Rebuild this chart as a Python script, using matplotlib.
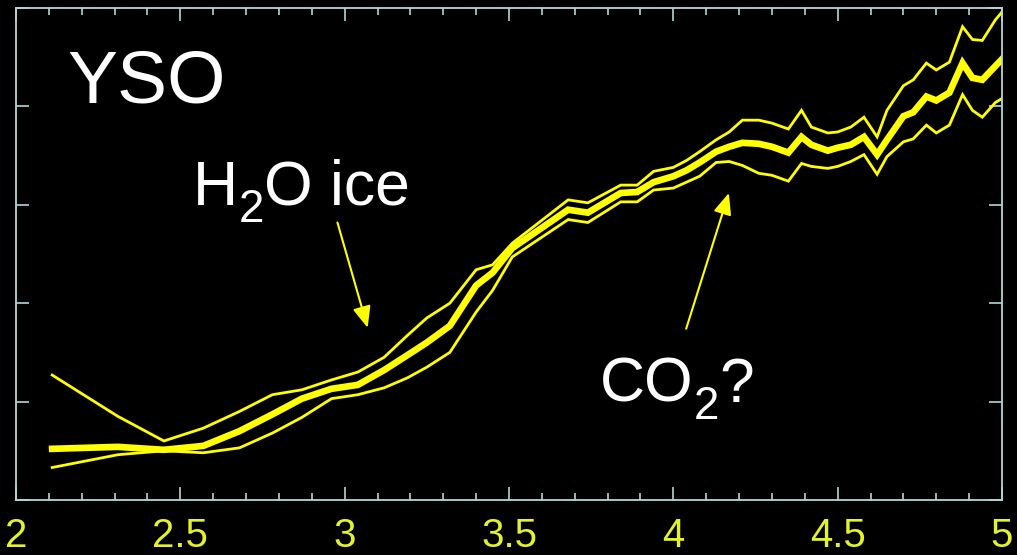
import matplotlib
matplotlib.use("Agg")
import matplotlib.pyplot as plt
from matplotlib.ticker import MultipleLocator, NullFormatter

# wavelength (micron)
wavelength = [2.11, 2.31, 2.45, 2.57, 2.68, 2.78, 2.87, 2.96, 3.04, 3.12,
              3.19, 3.25, 3.32, 3.40, 3.45, 3.51, 3.68, 3.74, 3.84, 3.89,
              3.94, 4.00, 4.04, 4.08, 4.13, 4.17, 4.21, 4.26, 4.30, 4.35,
              4.39, 4.42, 4.47, 4.50, 4.54, 4.58, 4.62, 4.65, 4.70, 4.73,
              4.77, 4.80, 4.84, 4.88, 4.91, 4.94, 4.98, 5.00]

upper = [1.27, 0.85, 0.60, 0.73, 0.90, 1.07, 1.12, 1.22, 1.30, 1.45,
         1.67, 1.85, 2.00, 2.34, 2.39, 2.61, 3.05, 3.02, 3.20, 3.20,
         3.34, 3.38, 3.45, 3.54, 3.66, 3.74, 3.86, 3.86, 3.83, 3.77,
         3.96, 3.79, 3.73, 3.74, 3.79, 3.89, 3.69, 3.96, 4.21, 4.27,
         4.44, 4.37, 4.45, 4.81, 4.68, 4.67, 4.88, 4.96]

middle = [0.52, 0.54, 0.51, 0.55, 0.70, 0.87, 1.03, 1.13, 1.17, 1.32,
          1.47, 1.60, 1.77, 2.18, 2.31, 2.56, 2.95, 2.92, 3.12, 3.13,
          3.23, 3.29, 3.35, 3.43, 3.54, 3.59, 3.63, 3.62, 3.59, 3.53,
          3.69, 3.61, 3.55, 3.58, 3.61, 3.69, 3.51, 3.66, 3.90, 3.94,
          4.10, 4.06, 4.14, 4.44, 4.29, 4.27, 4.41, 4.48]

lower = [0.33, 0.46, 0.50, 0.48, 0.53, 0.68, 0.84, 1.03, 1.07, 1.14,
         1.24, 1.35, 1.50, 1.91, 2.13, 2.47, 2.85, 2.82, 3.03, 3.03,
         3.15, 3.17, 3.23, 3.29, 3.43, 3.44, 3.40, 3.32, 3.30, 3.24,
         3.42, 3.39, 3.37, 3.39, 3.44, 3.51, 3.31, 3.49, 3.64, 3.67,
         3.81, 3.73, 3.81, 4.12, 3.96, 3.89, 4.04, 4.08]

x_ticks = [2, 2.5, 3, 3.5, 4, 4.5, 5]
x_tick_labels = ["2", "2.5", "3", "3.5", "4", "4.5", "5"]

YELLOW = "#ffff00"
LABEL_YELLOW = "#e4f22a"
AXIS_COLOR = "#b4d6d6"

plt.rcParams['font.family'] = ['Liberation Sans', 'DejaVu Sans']

fig = plt.figure(figsize=(10.17, 5.55), dpi=100, facecolor="black")
ax = fig.add_axes([16/1017, 1 - 500/555, (1002 - 16)/1017, (500 - 8)/555])
ax.set_facecolor("black")

ax.plot(wavelength, upper, color=YELLOW, lw=2.0, solid_joinstyle="miter")
ax.plot(wavelength, lower, color=YELLOW, lw=2.0, solid_joinstyle="miter")
ax.plot(wavelength, middle, color=YELLOW, lw=4.8, solid_joinstyle="miter")

ax.set_xlim(2, 5)
ax.set_ylim(0, 5)

ax.set_xticks(x_ticks)
ax.set_xticklabels(x_tick_labels)
ax.xaxis.set_minor_locator(MultipleLocator(0.1))
ax.yaxis.set_major_locator(MultipleLocator(1))
ax.yaxis.set_major_formatter(NullFormatter())

ax.tick_params(which="both", direction="in", top=True, right=True,
               color=AXIS_COLOR, width=1.2)
ax.tick_params(which="major", length=9.5)
ax.tick_params(which="minor", length=5)
ax.tick_params(axis="x", which="major", labelsize=29, labelcolor=LABEL_YELLOW, pad=12)
for s in ax.spines.values():
    s.set_color(AXIS_COLOR)
    s.set_linewidth(1.3)

ax.text(0.052, 0.807, "YSO", transform=ax.transAxes, color="white",
        fontsize=54, ha="left", va="baseline")

# labels built from pieces (smaller, lowered subscript)
lbl_kw = dict(transform=ax.transAxes, color="white", ha="left", va="baseline")
ax.text(0.179, 0.600, "H", fontsize=45, **lbl_kw)
ax.text(0.226, 0.565, "2", fontsize=33, **lbl_kw)
ax.text(0.252, 0.600, "O ice", fontsize=45, **lbl_kw)
ax.text(0.592, 0.200, "CO", fontsize=45, **lbl_kw)
ax.text(0.687, 0.165, "2", fontsize=33, **lbl_kw)
ax.text(0.713, 0.200, "?", fontsize=45, **lbl_kw)

arrow_style = dict(arrowstyle="-|>,head_length=1.3,head_width=0.55",
                   color=YELLOW, lw=1.5, shrinkA=0, shrinkB=0)
ax.annotate("", xy=(3.07, 1.75), xytext=(2.978, 2.82),
            arrowprops=arrow_style)
ax.annotate("", xy=(4.169, 3.12), xytext=(4.039, 1.74),
            arrowprops=arrow_style)

fig.savefig("out.png", dpi=100, facecolor="black")
